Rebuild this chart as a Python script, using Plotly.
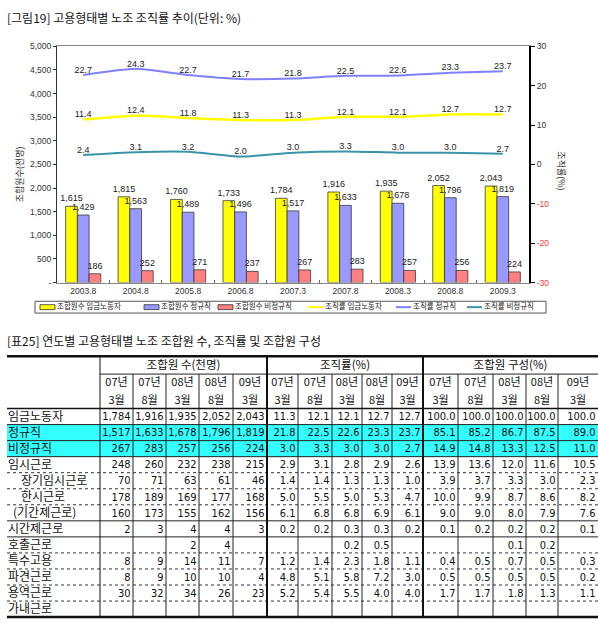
import plotly.graph_objects as go

W, H = 598, 634

# ---------------- chart data ----------------
periods = ["2003.8", "2004.8", "2005.8", "2006.8", "2007.3", "2007.8", "2008.3", "2008.8", "2009.3"]
members_wage = [1615, 1815, 1760, 1733, 1784, 1916, 1935, 2052, 2043]
members_regular = [1429, 1563, 1489, 1496, 1517, 1633, 1678, 1796, 1819]
members_nonregular = [186, 252, 271, 237, 267, 283, 257, 256, 224]
rate_wage = [11.4, 12.4, 11.8, 11.3, 11.3, 12.1, 12.1, 12.7, 12.7]
rate_regular = [22.7, 24.3, 22.7, 21.7, 21.8, 22.5, 22.6, 23.3, 23.7]
rate_nonregular = [2.4, 3.1, 3.2, 2.0, 3.0, 3.3, 3.0, 3.0, 2.7]

left_tick_values = [0, 500, 1000, 1500, 2000, 2500, 3000, 3500, 4000, 4500, 5000]
left_tick_labels = ["-", "500", "1,000", "1,500", "2,000", "2,500", "3,000", "3,500", "4,000", "4,500", "5,000"]
right_tick_values = [-30, -20, -10, 0, 10, 20, 30]
right_tick_labels = ["-30", "-20", "-10", "0", "10", "20", "30"]

series_names = ["조합원수 임금노동자", "조합원수 정규직", "조합원수 비정규직",
                "조직률 임금노동자", "조직률 정규직", "조직률 비정규직"]
chart_title = "[그림19] 고용형태별 노조 조직률 추이(단위: %)"
left_axis_title = "조합원수(천명)"
right_axis_title = "조직률(%)"

# ---------------- table data ----------------
table_title = "[표25] 연도별 고용형태별 노조 조합원 수, 조직률 및 조합원 구성"
group_headers = ["조합원 수(천명)", "조직률(%)", "조합원 구성(%)"]
period_years = ["07년", "07년", "08년", "08년", "09년"]
period_months = ["3월", "8월", "3월", "8월", "3월"]
row_labels = ["임금노동자", "정규직", "비정규직", "임시근로", "장기임시근로", "한시근로",
              "(기간제근로)", "시간제근로", "호출근로", "특수고용", "파견근로", "용역근로", "가내근로"]
table_members = [
    [1784, 1916, 1935, 2052, 2043],
    [1517, 1633, 1678, 1796, 1819],
    [267, 283, 257, 256, 224],
    [248, 260, 232, 238, 215],
    [70, 71, 63, 61, 46],
    [178, 189, 169, 177, 168],
    [160, 173, 155, 162, 156],
    [2, 3, 4, 4, 3],
    [None, None, 2, 4, None],
    [8, 9, 14, 11, 7],
    [8, 9, 10, 10, 4],
    [30, 32, 34, 26, 23],
    [None, None, None, None, None],
]
table_rates = [
    [11.3, 12.1, 12.1, 12.7, 12.7],
    [21.8, 22.5, 22.6, 23.3, 23.7],
    [3.0, 3.3, 3.0, 3.0, 2.7],
    [2.9, 3.1, 2.8, 2.9, 2.6],
    [1.4, 1.4, 1.3, 1.3, 1.0],
    [5.0, 5.5, 5.0, 5.3, 4.7],
    [6.1, 6.8, 6.8, 6.9, 6.1],
    [0.2, 0.2, 0.3, 0.3, 0.2],
    [None, None, 0.2, 0.5, None],
    [1.2, 1.4, 2.3, 1.8, 1.1],
    [4.8, 5.1, 5.8, 7.2, 3.0],
    [5.2, 5.4, 5.5, 4.0, 4.0],
    [None, None, None, None, None],
]
table_shares = [
    [100.0, 100.0, 100.0, 100.0, 100.0],
    [85.1, 85.2, 86.7, 87.5, 89.0],
    [14.9, 14.8, 13.3, 12.5, 11.0],
    [13.9, 13.6, 12.0, 11.6, 10.5],
    [3.9, 3.7, 3.3, 3.0, 2.3],
    [10.0, 9.9, 8.7, 8.6, 8.2],
    [9.0, 9.0, 8.0, 7.9, 7.6],
    [0.1, 0.2, 0.2, 0.2, 0.1],
    [None, None, 0.1, 0.2, None],
    [0.4, 0.5, 0.7, 0.5, 0.3],
    [0.5, 0.5, 0.5, 0.5, 0.2],
    [1.7, 1.7, 1.8, 1.3, 1.1],
    [None, None, None, None, None],
]

# ---------------- styles / layout constants ----------------
KR = "Noto Sans CJK KR, Noto Sans, sans-serif"
NUM = "Liberation Sans Narrow, DejaVu Sans Condensed, Roboto, Arial, sans-serif"
SANS = "Arial, Liberation Sans, Noto Sans CJK KR, sans-serif"
BAR_COLORS = ["#FFFF00", "#9999FF", "#FF8080"]
LINE_COLORS = ["#FFFF00", "#8080FF", "#3A93A8"]
LINE_WIDTHS = [2.5, 2, 2]
PLOT_L, PLOT_R, PLOT_T, PLOT_B = 57, 529, 42, 282

TABLE_L, LABEL_R, TABLE_R = 7, 100, 598
COL_WIDTHS = [33, 33, 33, 34, 34, 31, 34, 30, 30, 31, 35, 35, 33, 32, 40]
TOP_Y, GROUP_Y, HEAD_Y, ROW_H = 357, 375, 410, 16.3
HEAD_DY = 0.5
DATA_DY = 1
LABEL_INDENT = [0, 0, 0, 0, 13, 13, 5, 0, 0, 0, 0, 0, 0]
SOLID_BELOW = {0, 1, 2, 6, 7}
HIGHLIGHT_ROWS = [1, 2]
CYAN = "#33FFFF"

fig = go.Figure()

# ---- bars ----
for name, vals, color in zip(series_names[:3], [members_wage, members_regular, members_nonregular], BAR_COLORS):
    fig.add_trace(go.Bar(
        x=periods, y=vals, name=name,
        marker=dict(color=color, line=dict(color="#3a3a3a", width=0.8)),
        texttemplate="%{y:,}", textposition="outside", constraintext="none",
        textfont=dict(size=9, color="#222", family=SANS), cliponaxis=False,
    ))

# ---- rate lines ----
for name, vals, color, lw in zip(series_names[3:], [rate_wage, rate_regular, rate_nonregular], LINE_COLORS, LINE_WIDTHS):
    fig.add_trace(go.Scatter(
        x=periods, y=vals, name=name, yaxis="y2", mode="lines+text",
        text=[f"{v:.1f}" for v in vals], textposition="top center",
        textfont=dict(size=9, color="#222", family=SANS),
        line=dict(color=color, width=lw, shape="spline", smoothing=0.6), cliponaxis=False,
    ))

# ---- table (drawn on a pixel canvas axis x3/y3) ----
edges = [LABEL_R]
for w in COL_WIDTHS:
    edges.append(edges[-1] + w)
n_rows = len(row_labels)
row_tops = [HEAD_Y + i * ROW_H for i in range(n_rows)]
bottom_y = HEAD_Y + n_rows * ROW_H

shapes = []
for r in HIGHLIGHT_ROWS:
    shapes.append(dict(type="rect", xref="x3", yref="y3", x0=TABLE_L, x1=TABLE_R,
                       y0=row_tops[r], y1=row_tops[r] + ROW_H, fillcolor=CYAN, line=dict(width=0), layer="below"))
# horizontal lines
shapes.append(dict(type="line", xref="x3", yref="y3", x0=TABLE_L, x1=TABLE_R, y0=TOP_Y, y1=TOP_Y, line=dict(color="#111", width=2.5)))
shapes.append(dict(type="line", xref="x3", yref="y3", x0=LABEL_R, x1=TABLE_R, y0=GROUP_Y, y1=GROUP_Y, line=dict(color="#222", width=1)))
shapes.append(dict(type="line", xref="x3", yref="y3", x0=TABLE_L, x1=TABLE_R, y0=HEAD_Y, y1=HEAD_Y, line=dict(color="#111", width=1.5)))
for i in range(n_rows):
    y = row_tops[i] + ROW_H
    if i == n_rows - 1:
        ln = dict(color="#111", width=2.5)
    elif i in SOLID_BELOW:
        ln = dict(color="#222", width=1)
    else:
        ln = dict(color="#333", width=1, dash="dot")
    shapes.append(dict(type="line", xref="x3", yref="y3", x0=TABLE_L, x1=TABLE_R, y0=y, y1=y, line=ln))
# vertical lines
for k, x in enumerate(edges[:-1]):
    if k in (0, 5, 10):
        shapes.append(dict(type="line", xref="x3", yref="y3", x0=x, x1=x, y0=TOP_Y, y1=bottom_y,
                           line=dict(color="#111", width=1 if k == 0 else 2)))
    else:
        shapes.append(dict(type="line", xref="x3", yref="y3", x0=x, x1=x, y0=GROUP_Y, y1=bottom_y,
                           line=dict(color="#222", width=1)))

# group headers
g_centers = [(edges[5 * g] + edges[5 * g + 5]) / 2 for g in range(3)]
fig.add_trace(go.Scatter(x=g_centers, y=[(TOP_Y + GROUP_Y) / 2 + HEAD_DY] * 3, text=group_headers, mode="text",
                         textposition="middle center", textfont=dict(size=11.5, family=KR, color="#111"),
                         xaxis="x3", yaxis="y3", cliponaxis=False, marker=dict(size=1)))
col_centers = [(edges[i] + edges[i + 1]) / 2 for i in range(15)]
fig.add_trace(go.Scatter(x=col_centers, y=[384 + HEAD_DY] * 15, text=period_years * 3, mode="text",
                         textposition="middle center", textfont=dict(size=11, family=KR, color="#111"),
                         xaxis="x3", yaxis="y3", cliponaxis=False, marker=dict(size=1)))
fig.add_trace(go.Scatter(x=col_centers, y=[402 + HEAD_DY] * 15, text=period_months * 3, mode="text",
                         textposition="middle center", textfont=dict(size=11, family=KR, color="#111"),
                         xaxis="x3", yaxis="y3", cliponaxis=False, marker=dict(size=1)))
# row labels
fig.add_trace(go.Scatter(x=[TABLE_L + 1 + d for d in LABEL_INDENT], y=[t + ROW_H / 2 + DATA_DY for t in row_tops],
                         text=row_labels, mode="text", textposition="middle right",
                         textfont=dict(size=12, family=KR, color="#111"),
                         xaxis="x3", yaxis="y3", cliponaxis=False, marker=dict(size=1)))
# numbers
nx, ny, nt = [], [], []
for r in range(n_rows):
    vals = [f"{v:,}" if v is not None else None for v in table_members[r]] + \
           [f"{v:.1f}" if v is not None else None for v in table_rates[r]] + \
           [f"{v:.1f}" if v is not None else None for v in table_shares[r]]
    for c, s in enumerate(vals):
        if s is None:
            continue
        nx.append(edges[c + 1] - 2.5)
        ny.append(row_tops[r] + ROW_H / 2 + DATA_DY)
        nt.append(s)
fig.add_trace(go.Scatter(x=nx, y=ny, text=nt, mode="text", textposition="middle left",
                         textfont=dict(size=11, family=NUM, color="#111"),
                         xaxis="x3", yaxis="y3", cliponaxis=False, marker=dict(size=1)))

# ---- manual legend (styling) ----
LEG_BOX = (35, 301, 546, 313)
LEG_SYM_X = [40, 144, 218, 308, 396, 467]
LEG_SYM_W = 15
shapes.append(dict(type="rect", xref="x3", yref="y3", x0=LEG_BOX[0], x1=LEG_BOX[2], y0=LEG_BOX[1], y1=LEG_BOX[3],
                   line=dict(color="#555", width=1), fillcolor="rgba(0,0,0,0)"))
leg_cy = (LEG_BOX[1] + LEG_BOX[3]) / 2
for k, x in enumerate(LEG_SYM_X):
    if k < 3:
        shapes.append(dict(type="rect", xref="x3", yref="y3", x0=x, x1=x + LEG_SYM_W, y0=leg_cy - 2.5, y1=leg_cy + 2.5,
                           fillcolor=BAR_COLORS[k], line=dict(color="#333", width=0.8)))
    else:
        shapes.append(dict(type="line", xref="x3", yref="y3", x0=x, x1=x + LEG_SYM_W, y0=leg_cy, y1=leg_cy,
                           line=dict(color=LINE_COLORS[k - 3], width=2)))
fig.add_trace(go.Scatter(x=[x + LEG_SYM_W + 2 for x in LEG_SYM_X], y=[leg_cy] * 6, text=series_names, mode="text",
                         textposition="middle right", textfont=dict(size=7.5, family=KR, color="#222"),
                         xaxis="x3", yaxis="y3", cliponaxis=False, marker=dict(size=1)))

annotations = [
    dict(text=chart_title, x=5, y=13, xref="x3", yref="y3", xanchor="left", yanchor="middle", showarrow=False,
         font=dict(size=12, family=KR, color="#111")),
    dict(text=table_title, x=5, y=341, xref="x3", yref="y3", xanchor="left", yanchor="middle", showarrow=False,
         font=dict(size=12, family=KR, color="#111")),
    dict(text=left_axis_title, x=19, y=172, xref="x3", yref="y3", textangle=-90, showarrow=False,
         font=dict(size=9, family=KR, color="#333")),
    dict(text=right_axis_title, x=562, y=168, xref="x3", yref="y3", textangle=90, showarrow=False,
         font=dict(size=9, family=KR, color="#333")),
]

right_ticktext = [f"<span style='color:#FF3333'>{t}</span>" if v < 0 else t
                  for v, t in zip(right_tick_values, right_tick_labels)]

fig.update_layout(
    width=W, height=H, autosize=False, margin=dict(l=0, r=0, t=0, b=0),
    paper_bgcolor="white", plot_bgcolor="rgba(0,0,0,0)",
    barmode="group", bargap=0.33, bargroupgap=0, showlegend=False, hovermode=False,
    font=dict(family=SANS, size=9, color="#222"),
    xaxis=dict(domain=[PLOT_L / W, PLOT_R / W], anchor="y", type="category",
               showline=True, linecolor="#888", linewidth=1, mirror=True,
               ticks="inside", tickson="boundaries", ticklen=3, tickcolor="#666",
               tickfont=dict(size=8.5, color="#333", family=SANS), showgrid=False),
    yaxis=dict(domain=[1 - PLOT_B / H, 1 - PLOT_T / H], range=[0, 5000],
               tickvals=left_tick_values, ticktext=left_tick_labels,
               showline=True, linecolor="#333", linewidth=1, ticks="outside", ticklen=3, tickcolor="#333",
               tickfont=dict(size=8.5, color="#333", family=SANS), showgrid=False, zeroline=False),
    yaxis2=dict(overlaying="y", side="right", anchor="x", range=[-30, 30],
                tickvals=right_tick_values, ticktext=right_ticktext,
                showline=True, linecolor="#000", linewidth=2, ticks="outside", ticklen=4, tickcolor="#000",
                tickfont=dict(size=8.5, color="#333", family=SANS), showgrid=False, zeroline=False),
    xaxis3=dict(domain=[0, 1], range=[0, W], visible=False, anchor="y3", fixedrange=True),
    yaxis3=dict(domain=[0, 1], range=[H, 0], visible=False, anchor="x3", fixedrange=True),
    shapes=shapes, annotations=annotations,
)

fig.write_html("out.html")
